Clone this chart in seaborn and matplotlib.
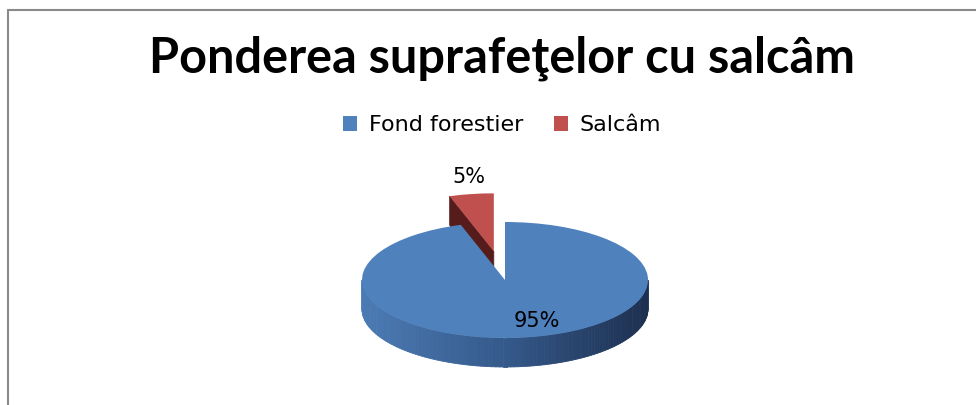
import numpy as np
import matplotlib.pyplot as plt
import seaborn as sns
from matplotlib.patches import Patch, Polygon
from matplotlib.lines import Line2D
from matplotlib.colors import LinearSegmentedColormap

# chart data
labels = ["Fond forestier", "Salcâm"]
values = [95, 5]
pct_labels = ["95%", "5%"]
colors = ["#4f81bd", "#c0504d"]
side_colors = ["#2f4d78", "#561c1b"]
explode = [0, 0.5]

sns.set_theme(style="white")
plt.rcParams['font.family'] = ['DejaVu Sans']

W, H = 976, 405
fig = plt.figure(figsize=(W / 100, H / 100), dpi=100)
ax = fig.add_axes([0, 0, 1, 1])

# top faces of the pie
wedges, _ = ax.pie(values, colors=colors, explode=explode, startangle=90,
                   counterclock=False, radius=1,
                   wedgeprops=dict(linewidth=0, zorder=3))

# squash the circle into an ellipse (fake 3d tilt)
ax.set_aspect('auto')
ax.set_xlim(-505 / 143, (W - 505) / 143)
ax.set_ylim(-125 / 58, (H - 125) / 58)
ax.set_axis_off()

depth = 0.5
side_cmap = LinearSegmentedColormap.from_list("side", ["#4b7bb4", "#34598b", "#1d3050"])

for w, sc in zip(wedges, side_colors):
    cx, cy = w.center
    t1, t2 = w.theta1, w.theta2
    # outer rim, only the front half is visible
    for k in range(-2, 2):
        a0 = max(t1, 180 + 360 * k)
        a1 = min(t2, 360 + 360 * k)
        if a1 <= a0:
            continue
        angs = np.linspace(a0, a1, 120)
        for b0, b1 in zip(angs[:-1], angs[1:]):
            xs = cx + np.cos(np.radians([b0, b1]))
            ys = cy + np.sin(np.radians([b0, b1]))
            c = side_cmap((xs.mean() - cx + 1) / 2)
            poly = Polygon([(xs[0], ys[0]), (xs[1], ys[1]),
                            (xs[1], ys[1] - depth), (xs[0], ys[0] - depth)],
                           closed=True, facecolor=c, edgecolor=c, lw=0.6, zorder=1)
            ax.add_patch(poly)
    # radial cut faces facing the viewer
    for t, vis in [(t1, np.cos(np.radians(t1)) > 1e-6),
                   (t2, np.cos(np.radians(t2)) < -1e-6)]:
        if not vis:
            continue
        ox = cx + np.cos(np.radians(t))
        oy = cy + np.sin(np.radians(t))
        poly = Polygon([(cx, cy), (ox, oy), (ox, oy - depth), (cx, cy - depth)],
                       closed=True, facecolor=sc, edgecolor=sc, lw=0.5, zorder=1)
        ax.add_patch(poly)

# percentage labels
label_dist = [0.72, 1.3]
label_shift = [0.11, 0.03]
for w, txt, d, s in zip(wedges, pct_labels, label_dist, label_shift):
    cx, cy = w.center
    mid = np.radians((w.theta1 + w.theta2) / 2)
    ax.text(cx + d * np.cos(mid) + s, cy + d * np.sin(mid), txt,
            ha='center', va='center', fontsize=15, color='black', zorder=5)

# title and legend
fig.text(502 / W, 1 - 58 / H, "Ponderea suprafeţelor cu salcâm",
         ha='center', va='center', fontsize=35, fontweight='bold', color='black',
         family=['Lato', 'DejaVu Sans'])

handles = [Patch(facecolor=c, edgecolor='none') for c in colors]
fig.legend(handles, labels, loc='center', bbox_to_anchor=(502 / W, 1 - 125 / H),
           ncol=2, frameon=False, fontsize=16, handlelength=0.65, handleheight=0.65,
           handletextpad=0.5, columnspacing=1.4, labelcolor='black')

# chart area border (only top and left are inside the picture)
fig.add_artist(Line2D([7.5 / W, 1], [1 - 9.5 / H, 1 - 9.5 / H],
                      transform=fig.transFigure, color='#8a8a8a', lw=1.5))
fig.add_artist(Line2D([7.5 / W, 7.5 / W], [0, 1 - 9.5 / H],
                      transform=fig.transFigure, color='#8a8a8a', lw=1.5))

fig.savefig("out.png", dpi=100)
